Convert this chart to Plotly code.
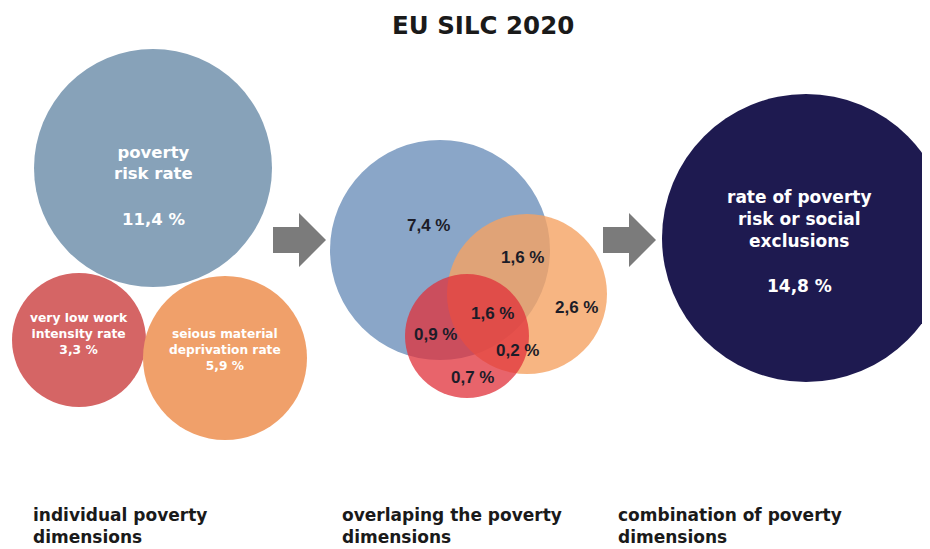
import plotly.graph_objects as go

# data
title = "EU SILC 2020"
single_labels = ["poverty<br>risk rate", "very low work<br>intensity rate", "seious material<br>deprivation rate"]
single_values = [11.4, 3.3, 5.9]
overlap_values = [7.4, 1.6, 2.6, 1.6, 0.9, 0.2, 0.7]
combined_label = "rate of poverty<br>risk or social<br>exclusions"
combined_value = 14.8
stage_labels = ["individual poverty<br>dimensions", "overlaping the poverty<br>dimensions",
                "combination of poverty<br>dimensions"]

def pct(v):
    return f"{v:.1f}".replace(".", ",") + " %"

W, H = 930, 549
OFF = 8  # page body margin, so axis units equal page pixels
FONT = "DejaVu Sans"

fig = go.Figure()

def circle(cx, cy, r, color, opacity=1.0):
    fig.add_shape(type="circle", xref="x", yref="y", x0=cx - r, x1=cx + r, y0=cy - r, y1=cy + r,
                  fillcolor=color, opacity=opacity, line=dict(width=0), layer="below")

def arrow(x0, yc):
    p = (f"M{x0},{yc-13} L{x0+26},{yc-13} L{x0+26},{yc-27} L{x0+53},{yc} "
         f"L{x0+26},{yc+27} L{x0+26},{yc+13} L{x0},{yc+13} Z")
    fig.add_shape(type="path", path=p, xref="x", yref="y", fillcolor="#7b7b7b",
                  line=dict(width=0), layer="below")

def text(x, y, s, size, color="white", align="center", xanchor="center", family=FONT):
    fig.add_annotation(x=x, y=y, xref="x", yref="y", text=s, showarrow=False, align=align,
                       xanchor=xanchor, font=dict(family=family, size=size, color=color))

# left: individual dimensions
circle(153, 168, 119, "#87a2b9")
circle(79, 340, 67, "#d56565")
circle(225, 358, 82, "#f0a06a")
text(153, 163, f"<b>{single_labels[0]}</b>", 16.5)
text(153, 219, f"<b>{pct(single_values[0])}</b>", 16.5)
text(79, 334, f"<b>{single_labels[1]}<br>{pct(single_values[1])}</b>", 12.3)
text(225, 350, f"<b>{single_labels[2]}<br>{pct(single_values[2])}</b>", 12.2)

arrow(273, 240)

# middle: overlap venn
circle(440, 250, 110, "#8aa6c8")
circle(527, 294, 80, "#f5a263", 0.8)
circle(467, 336, 62, "#e0303a", 0.75)
pos = [(428, 225), (522, 257), (576, 307), (492, 313), (435, 334), (517, 350), (472, 377)]
for (x, y), v in zip(pos, overlap_values):
    text(x, y, f"<b>{pct(v)}</b>", 17, color="#1c1c28", family="Liberation Sans")

arrow(603, 240)

# right: combination
circle(806, 238, 144, "#1e1a50")
text(799, 219, f"<b>{combined_label}</b>", 17)
text(799, 286, f"<b>{pct(combined_value)}</b>", 17)

# title and stage captions
text(483, 25, f"<b>{title}</b>", 24.5, color="#1a1a1a")
for x, s in zip([31, 340, 616], stage_labels):
    text(x, 526, f"<b>{s}</b>", 17, color="#1a1a1a", align="left", xanchor="left")

fig.update_layout(
    width=W, height=H, autosize=False, margin=dict(l=0, r=0, t=0, b=0),
    plot_bgcolor="white", paper_bgcolor="white", showlegend=False,
    xaxis=dict(range=[OFF, W + OFF], visible=False, fixedrange=True),
    yaxis=dict(range=[H + OFF, OFF], visible=False, fixedrange=True),
)

fig.write_html("out.html")
